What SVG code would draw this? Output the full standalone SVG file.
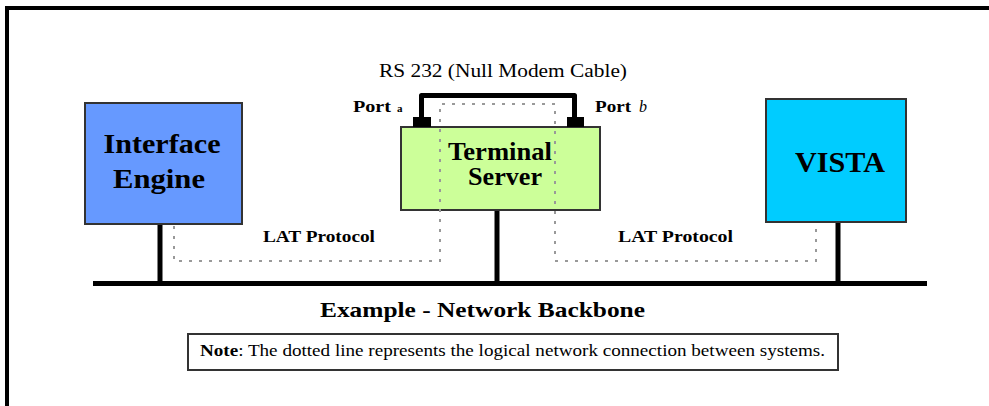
<svg xmlns="http://www.w3.org/2000/svg" width="989" height="406" viewBox="0 0 989 406">
<style>
.box{stroke:#333;stroke-width:2}
.t{font-family:"Liberation Serif","Times New Roman",serif;font-weight:bold;fill:#000}
.n{font-family:"Liberation Serif","Times New Roman",serif;fill:#000}
.bus{stroke:#000;stroke-width:5;fill:none}
.dot{stroke:#999;stroke-width:2;stroke-dasharray:3 7;fill:none}
</style>
<rect width="989" height="406" fill="#fff"/>
<g id="frame">
<line x1="5" y1="8" x2="989" y2="8" stroke="#000" stroke-width="4"/>
<line x1="7" y1="6" x2="7" y2="406" stroke="#000" stroke-width="4"/>
</g>
<g id="interface-engine">
<rect class="box" x="85" y="103" width="157" height="121" fill="#6699FF"/>
<text class="t" x="162" y="153" font-size="28" text-anchor="middle" textLength="117" lengthAdjust="spacingAndGlyphs">Interface</text>
<text class="t" x="159" y="188" font-size="28" text-anchor="middle" textLength="92" lengthAdjust="spacingAndGlyphs">Engine</text>
</g>
<g id="terminal-server">
<rect class="box" x="401" y="127" width="199" height="83" fill="#CCFF99"/>
<text class="t" x="500" y="160" font-size="25" text-anchor="middle" textLength="104" lengthAdjust="spacingAndGlyphs">Terminal</text>
<text class="t" x="505" y="185" font-size="25" text-anchor="middle" textLength="74" lengthAdjust="spacingAndGlyphs">Server</text>
</g>
<g id="vista">
<rect class="box" x="766" y="99" width="140" height="123" fill="#00CCFF"/>
<text class="t" x="840" y="172" font-size="29" text-anchor="middle" textLength="90" lengthAdjust="spacingAndGlyphs">VISTA</text>
</g>
<g id="connectors">
<line class="bus" x1="93" y1="283.5" x2="927" y2="283.5"/>
<line class="bus" x1="160" y1="225" x2="160" y2="283"/>
<line class="bus" x1="497" y1="211" x2="497" y2="283"/>
<line class="bus" x1="838" y1="223" x2="838" y2="283"/>
<path class="bus" d="M421.5 120 V95.5 H574.5 V120" stroke-linejoin="round"/>
<rect x="413" y="117" width="18" height="10" fill="#000"/>
<rect x="567" y="117" width="17" height="10" fill="#000"/>
<path class="dot" d="M174 226 V261 H440 V104 H555 V261 H816 V224"/>
</g>
<g id="labels">
<text class="n" x="503" y="77" font-size="18" text-anchor="middle" textLength="248" lengthAdjust="spacingAndGlyphs">RS 232 (Null Modem Cable)</text>
<text class="t" x="353" y="112" font-size="16" textLength="38" lengthAdjust="spacingAndGlyphs">Port</text>
<text class="n" x="397" y="112" font-size="11" font-weight="bold">a</text>
<text class="t" x="595" y="112" font-size="16" textLength="36" lengthAdjust="spacingAndGlyphs">Port</text>
<text class="n" x="639" y="112" font-size="16" font-style="italic">b</text>
<text class="t" x="263" y="242" font-size="17" textLength="112" lengthAdjust="spacingAndGlyphs">LAT Protocol</text>
<text class="t" x="618" y="242" font-size="17" textLength="115" lengthAdjust="spacingAndGlyphs">LAT Protocol</text>
<text class="t" x="320" y="317" font-size="22" textLength="325" lengthAdjust="spacingAndGlyphs">Example - Network Backbone</text>
</g>
<g id="note">
<rect x="188" y="334" width="650" height="36" fill="#fff" stroke="#333" stroke-width="2"/>
<text class="n" x="200" y="356" font-size="16" textLength="625" lengthAdjust="spacingAndGlyphs"><tspan font-weight="bold">Note</tspan>: The dotted line represents the logical network connection between systems.</text>
</g>
</svg>
